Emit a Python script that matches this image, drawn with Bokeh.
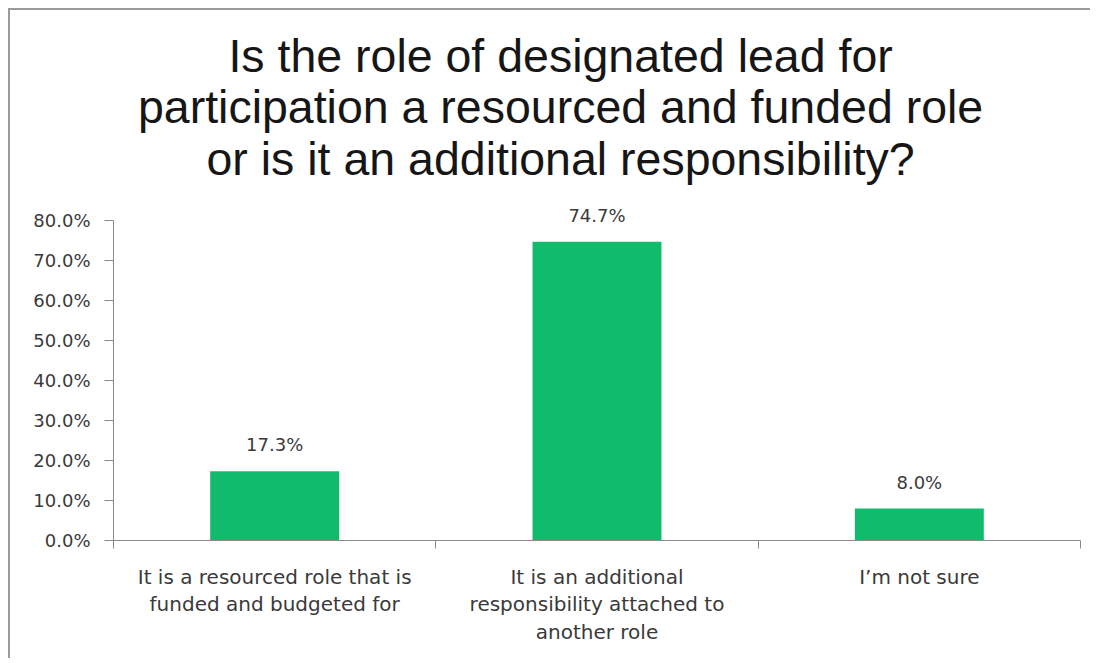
from bokeh.plotting import figure
from bokeh.models import Range1d, FixedTicker, NumeralTickFormatter, ColumnDataSource, LabelSet, Label
from bokeh.embed import file_html
from bokeh.resources import INLINE
from bokeh.core.properties import value

# ---- data ----
categories = [
    "It is a resourced role that is\nfunded and budgeted for",
    "It is an additional\nresponsibility attached to\nanother role",
    "I\u2019m not sure",
]
shares = [0.173, 0.747, 0.080]
share_labels = ["17.3%", "74.7%", "8.0%"]
y_ticks = [0.0, 0.1, 0.2, 0.3, 0.4, 0.5, 0.6, 0.7, 0.8]
title_lines = [
    "Is the role of designated lead for",
    "participation a resourced and funded role",
    "or is it an additional responsibility?",
]

BAR = "#10BC6C"
AXIS = "#8a8a8a"
TXT = "#3a3a3a"
FONT = "DejaVu Sans"

n = len(categories)
centers = [i + 0.5 for i in range(n)]
bounds_ticks = [float(i) for i in range(n + 1)]

p = figure(
    width=1082, height=650, title=None,
    x_range=Range1d(0, n), y_range=Range1d(0, 1.325),
    output_backend="svg", toolbar_location=None,
    min_border_left=103, min_border_right=12, min_border_top=0, min_border_bottom=120,
)
p.styles = {"margin-left": "8px", "margin-top": "8px",
            "border-left": "2px solid #9a9a9a", "border-top": "2px solid #9a9a9a"}
p.outline_line_color = None
p.xgrid.grid_line_color = None
p.ygrid.grid_line_color = None
p.background_fill_color = "white"
p.border_fill_color = "white"

p.vbar(x=centers, top=shares, bottom=0, width=0.4, fill_color=BAR, line_color=None)

src = ColumnDataSource(dict(x=centers, y=shares, t=share_labels))
p.add_layout(LabelSet(x="x", y="y", text="t", source=src, y_offset=20,
                      text_align="center", text_baseline="alphabetic",
                      text_font=value(FONT), text_font_size="18px", text_color=TXT))

# y axis
ya = p.yaxis[0]
ya.ticker = FixedTicker(ticks=y_ticks, minor_ticks=[])
ya.formatter = NumeralTickFormatter(format="0.0%")
ya.bounds = (0, 0.8)
ya.axis_line_color = AXIS
ya.major_tick_line_color = AXIS
ya.major_tick_out = 9
ya.major_tick_in = 0
ya.minor_tick_line_color = None
ya.major_label_standoff = 14
ya.major_label_text_font = FONT
ya.major_label_text_font_size = "18px"
ya.major_label_text_color = TXT

# x axis
xa = p.xaxis[0]
xa.ticker = FixedTicker(ticks=centers, minor_ticks=bounds_ticks)
xa.major_label_overrides = {c: lab for c, lab in zip(centers, categories)}
xa.axis_line_color = AXIS
xa.major_tick_line_color = None
xa.major_tick_out = 0
xa.major_tick_in = 0
xa.minor_tick_line_color = AXIS
xa.minor_tick_out = 8
xa.minor_tick_in = 0
xa.major_label_standoff = 16
xa.major_label_text_font = FONT
xa.major_label_text_font_size = "20px"
xa.major_label_text_line_height = 1.16
xa.major_label_text_color = TXT

# title (three centred lines)
title_x = 1.387
title_y = [1.211, 1.085, 0.955]
for line, ty in zip(title_lines, title_y):
    p.add_layout(Label(x=title_x, y=ty, text=line, text_align="center",
                       text_baseline="alphabetic", text_font="Liberation Sans",
                       text_font_size="46.5px", text_color="#161616"))

open("out.html", "w").write(file_html(p, INLINE))
